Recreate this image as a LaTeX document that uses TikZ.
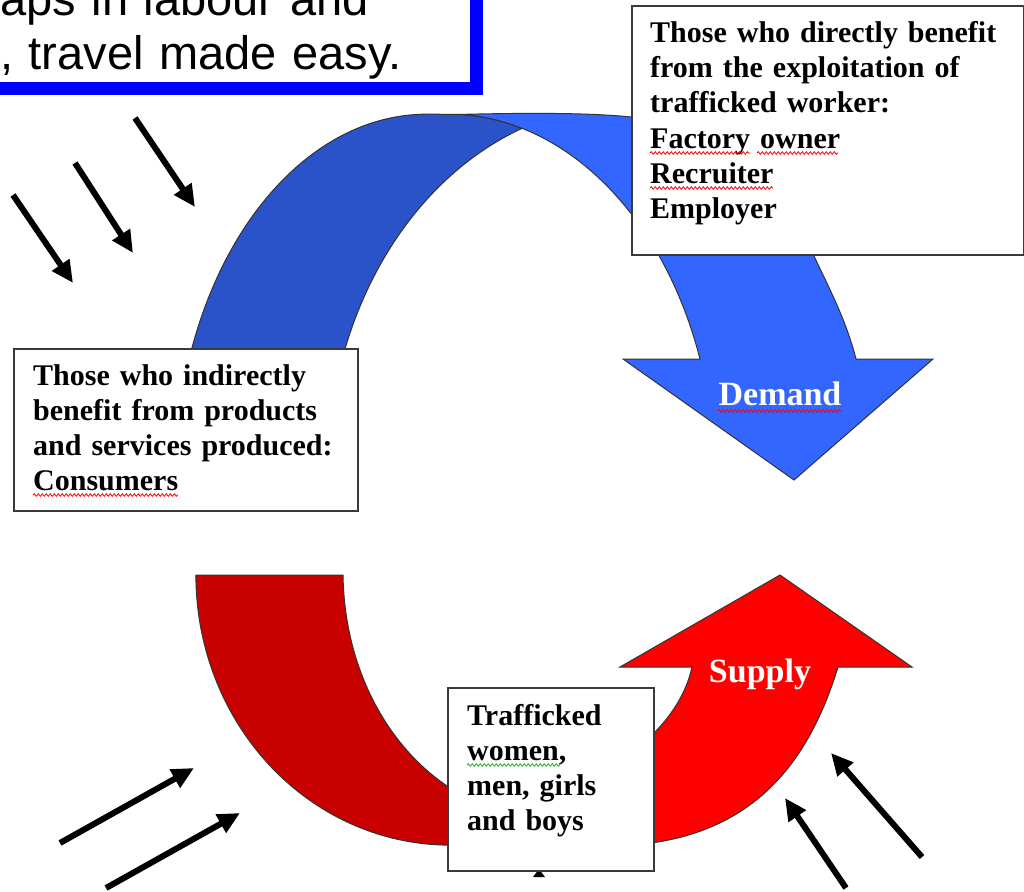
\documentclass[tikz,border=0pt]{standalone}
\usepackage{fontspec}
\setmainfont{Liberation Serif}
\newfontfamily\arialfont{Liberation Sans}
\usetikzlibrary{arrows.meta,decorations.pathmorphing}

\definecolor{demandlight}{HTML}{3366FF}
\definecolor{demanddark}{HTML}{2A52C9}
\definecolor{supplylight}{HTML}{FF0000}
\definecolor{supplydark}{HTML}{C80000}
\definecolor{framegray}{HTML}{3A3A3A}
\definecolor{grammargreen}{HTML}{2DA52D}

\begin{document}
\begin{tikzpicture}[x=1pt,y=1pt,
  band/.style={draw=black!80, line width=1},
  infobox/.style={draw=framegray, line width=1.6, fill=white, inner sep=0, anchor=north west},
  infotext/.style={inner sep=0, anchor=base west, align=left, text width=380,
    font=\bfseries\fontsize{30}{35}\selectfont},
  flowlabel/.style={inner sep=0, anchor=base, text=white,
    font=\bfseries\fontsize{34}{40}\selectfont},
  push/.style={line width=6, -{Triangle[length=22,width=20]}},
  spell/.style={draw=red, line width=0.8, decorate,
    decoration={snake, segment length=4, amplitude=1.3}},
  grammar/.style={spell, draw=grammargreen}]

\path[use as bounding box] (0,0) rectangle (1024,-891);
\clip (0,0) rectangle (1024,-891);
\fill[white] (0,0) rectangle (1024,-891);

% headline panel with heavy blue frame
\node[draw=blue, line width=13, fill=white, inner sep=0, anchor=south east,
      minimum width=640, minimum height=220] (headframe) at (483,-94.5) {};
\node[inner sep=0, anchor=base west, align=left, text width=480,
      font=\arialfont\fontsize{47}{54}\selectfont] (headtext) at (0,-16)
  {aps in labour and\\, travel made easy.};

% demand: back (darker) half of the curved arrow
\filldraw[band, fill=demanddark]
  (176.5,-440) arc[start angle=173.7, end angle=90, x radius=252, y radius=366]
  -- (460.1,-114.4) arc[start angle=87.4, end angle=73.9, x radius=267, y radius=366]
  arc[start angle=110.5, end angle=170, x radius=300, y radius=370] -- cycle;

% demand: front half with arrow head
\filldraw[band, fill=demandlight]
  (460.1,-114.4) .. controls (540,-112.5) and (600,-113) .. (640,-118)
  .. controls (740,-130) and (790,-200) .. (813,-254)
  .. controls (830,-290) and (846,-320) .. (856,-359)
  -- (933,-359) -- (794,-480) -- (623,-359) -- (700,-359)
  arc[start angle=19.3, end angle=87.4, x radius=267, y radius=366] -- cycle;

% supply: back (darker) half of the curved arrow
\filldraw[band, fill=supplydark]
  (196,-575) -- (343,-575) .. controls (345,-700) and (420,-790) .. (500,-810)
  -- (494,-841) arc[start angle=280, end angle=180, x radius=254, y radius=270] -- cycle;

% supply: front half with arrow head
\filldraw[band, fill=supplylight]
  (600,-846) .. controls (740,-848) and (805,-775) .. (838,-667)
  -- (912,-667) -- (780,-575) -- (620,-667) -- (692,-667)
  .. controls (685,-700) and (660,-735) .. (620,-760) -- cycle;

\node[flowlabel] (demandlabel) at (780,-405) {Demand};
\node[flowlabel] (supplylabel) at (760,-682) {Supply};

% pressure arrows
\coordinate (p1s) at (13,-195);  \coordinate (p1e) at (73,-283);
\coordinate (p2s) at (75,-163);  \coordinate (p2e) at (133,-253);
\coordinate (p3s) at (135,-118); \coordinate (p3e) at (195,-207);
\coordinate (q1s) at (60,-843);  \coordinate (q1e) at (194,-768);
\coordinate (q2s) at (106,-888); \coordinate (q2e) at (240,-813);
\coordinate (r1s) at (922,-857); \coordinate (r1e) at (831,-753);
\coordinate (r2s) at (846,-888); \coordinate (r2e) at (785,-798);
\foreach \a in {p1,p2,p3,q1,q2,r1,r2}{\draw[push] (\a s) -- (\a e);}

% small arrow tip just under the bottom box
\fill (533,-877) -- (539,-869) -- (545,-877) -- cycle;

% text boxes
\node[infobox, minimum width=392, minimum height=249] (directbox) at (631,-5) {};
\node[infotext] (directtext) at (650,-43)
  {Those who directly benefit\\from the exploitation of\\trafficked worker:\\Factory owner\\Recruiter\\Employer};

\node[infobox, minimum width=344, minimum height=162] (indirectbox) at (13,-348) {};
\node[infotext] (indirecttext) at (33,-385)
  {Those who indirectly\\benefit from products\\and services produced:\\Consumers};

\node[infobox, minimum width=206, minimum height=183] (victimbox) at (447,-687) {};
\node[infotext] (victimtext) at (467,-725)
  {Trafficked\\women,\\men, girls\\and boys};

% spell-check marks
\draw[spell] (650,-153) -- (750,-153);
\draw[spell] (757,-153) -- (838,-153);
\draw[spell] (650,-188) -- (773,-188);
\draw[spell] (33,-495) -- (178,-495);
\draw[spell] (718,-411) -- (842,-411);
\draw[grammar] (467,-765) -- (560,-765);
\end{tikzpicture}
\end{document}
